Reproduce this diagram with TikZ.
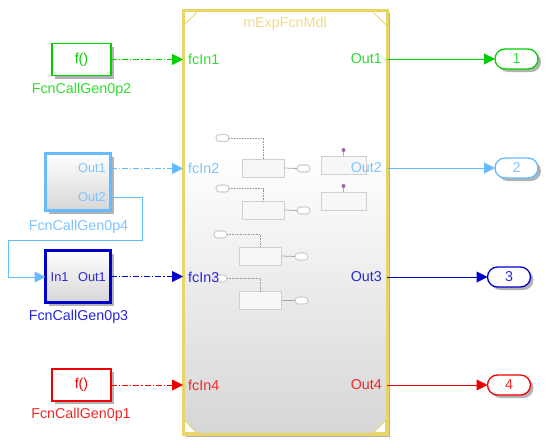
\documentclass[tikz,border=0pt]{standalone}
\usepackage{fontspec}
\setmainfont{Liberation Sans}
\usetikzlibrary{arrows.meta,shadows,calc}
\definecolor{cgreen}{HTML}{00D000}
\definecolor{tgreen}{HTML}{30DC30}
\definecolor{clight}{HTML}{66BBFF}
\definecolor{tlight}{HTML}{80C4FF}
\definecolor{cdark}{HTML}{0000CC}
\definecolor{tdark}{HTML}{2828D8}
\definecolor{cred}{HTML}{F00000}
\definecolor{tred}{HTML}{F02828}
\definecolor{cyel}{HTML}{EAD468}
\definecolor{tyel}{HTML}{F0DC88}
\definecolor{cgrey}{HTML}{D0D0D0}
\definecolor{cpurp}{HTML}{A860A8}
\pgfdeclareverticalshading{mdlshade}{100bp}{color(0bp)=(white!84!black);color(25bp)=(white!84!black);color(58bp)=(white);color(100bp)=(white)}
\newcommand{\bigf}{\fontsize{14.3}{14.3}\selectfont}
\newcommand{\smallf}{\fontsize{12.8}{13}\selectfont}
\tikzset{
  softshadow/.style={drop shadow={shadow xshift=3pt,shadow yshift=-3pt,fill=black,opacity=.3}},
  gen/.style={draw=#1,text=#1,fill=white,line width=1.6pt,inner sep=0pt,outer sep=0pt,softshadow},
  sub/.style={draw=#1,line width=2.2pt,inner sep=0pt,outer sep=0pt,softshadow,top color=white,bottom color=white!84!black},
  oport/.style={draw=#1,text=#1,fill=white,line width=1.3pt,inner sep=0pt,outer sep=0pt,rounded corners=10pt,minimum width=43pt,minimum height=20pt,softshadow},
  lbl/.style={text=#1,inner sep=0pt,font=\bigf},
  slbl/.style={text=#1,inner sep=0pt,font=\smallf},
  sig/.style={draw=#1,line width=1pt,-{Triangle[length=11pt,width=11pt,fill=#1]}},
  fcn/.style={sig=#1,dash pattern=on 6pt off 2pt on 1.2pt off 2pt},
  ibox/.style={draw=cgrey,fill=white!97!black,line width=1pt,inner sep=0pt,outer sep=0pt,minimum width=42pt,minimum height=18pt},
  ioval/.style={draw=cgrey,fill=white,line width=1.1pt,inner sep=0pt,outer sep=0pt,rounded corners=3.4pt,minimum width=13pt,minimum height=7pt},
  iline/.style={draw=cgrey!80!black,line width=.7pt},
  idash/.style={draw=black!40,line width=.6pt,densely dotted},
}
\begin{document}
\begin{tikzpicture}[x=1pt,y=-1pt]
\useasboundingbox (0,0) rectangle (550,445);
\fill[white] (0,0) rectangle (550,445);
% main block
\node[draw=cyel,line width=3pt,inner sep=0pt,outer sep=0pt,minimum width=204pt,minimum height=424pt,shading=mdlshade,softshadow] (mdl) at (285,222) {};
\coordinate (tl) at (184.5,11.5); \coordinate (tr) at (385.5,11.5);
\coordinate (bl) at (184.5,432.5); \coordinate (br) at (385.5,432.5);
\draw[cyel,line width=.9pt] ($(tl)+(13,0)$) -- ($(tl)+(0,13)$);
\draw[cyel,line width=.9pt] ($(tr)+(-13,0)$) -- ($(tr)+(0,13)$);
\fill[white,draw=cyel,line width=.9pt] (bl) -- ($(bl)+(12,0)$) -- ($(bl)+(0,-12)$) -- cycle;
\fill[white,draw=cyel,line width=.9pt] (br) -- ($(br)+(-12,0)$) -- ($(br)+(0,-12)$) -- cycle;
\node[lbl=tyel] (title) at (285,24) {mExpFcnMdl};
% inner content
\foreach \n/\cx/\cy/\ox/\oy/\rx/\ry in {a/263/168/222.5/138/303.5/168.5, b/263/210/222.5/188.5/303.5/210.5, c/260.5/256/220.5/234.5/301.5/256.5, d/260.5/300.5/220.5/278.5/301.5/300.5}{
  \node[ibox] (box\n) at (\cx,\cy) {};
  \node[ioval] (in\n) at (\ox,\oy) {};
  \node[ioval] (out\n) at (\rx,\ry) {};
  \draw[idash] (in\n.east) -| (box\n.north);
  \draw[iline] (box\n.east) -- (out\n.west);
}
\node[ibox,minimum width=45pt] (boxe) at (343.5,165) {};
\node[ibox,minimum width=45pt] (boxf) at (343.5,201) {};
\foreach \b/\y in {e/150,f/186}{
  \node[circle,fill=cpurp,inner sep=0pt,minimum size=4pt] (dot\b) at (343.5,\y) {};
  \draw[cpurp!60,line width=1.1pt] (dot\b) -- (box\b.north);
}
% source blocks
\node[gen=cgreen,minimum width=59pt,minimum height=32pt] (g2) at (81.5,59.5) {\bigf f()};
\node[lbl=tgreen] (g2l) at (81.5,90) {FcnCallGen0p2};
\node[sub=clight,minimum width=65pt,minimum height=57pt] (g4) at (78,182) {};
\node[slbl=tlight,anchor=east] (g4o1) at (106,168.5) {Out1};
\node[slbl=tlight,anchor=east] (g4o2) at (106,197.5) {Out2};
\node[lbl=tlight] (g4l) at (78.5,227) {FcnCallGen0p4};
\node[sub=cdark,minimum width=65pt,minimum height=52pt] (g3) at (78,276.5) {};
\node[slbl=tdark,anchor=west] (g3i) at (50.5,277) {In1};
\node[slbl=tdark,anchor=east] (g3o) at (106,277) {Out1};
\node[lbl=tdark] (g3l) at (78.5,317) {FcnCallGen0p3};
\node[gen=cred,minimum width=59pt,minimum height=32pt] (g1) at (81.5,385) {\bigf f()};
\node[lbl=tred] (g1l) at (81,415) {FcnCallGen0p1};
% ports of main block
\foreach \t/\y/\c in {1/59/tgreen,2/168/tlight,3/277/tdark,4/385/tred}{
  \node[lbl=\c,anchor=west] (pi\t) at (188,\y) {fcIn\t};
  \node[lbl=\c,anchor=east] (po\t) at (382,\y) {Out\t};
}
% outports
\node[oport=cgreen,text=tgreen] (o1) at (516.5,59) {\bigf 1};
\node[oport=clight,text=tlight] (o2) at (516.5,168) {\bigf 2};
\node[oport=cdark,text=tdark] (o3) at (509,277) {\bigf 3};
\node[oport=cred,text=tred] (o4) at (509,385) {\bigf 4};
% connectors
\coordinate (e1) at (mdl.west |- g2.east);
\coordinate (e2) at (mdl.west |- g4o1.east);
\coordinate (e3) at (mdl.west |- g3.east);
\coordinate (e4) at (mdl.west |- g1.east);
\draw[fcn=cgreen] (g2.east) -- (e1);
\draw[fcn=clight] (g4.east |- e2) -- (e2);
\draw[fcn=cdark] (g3.east) -- (e3);
\draw[fcn=cred] (g1.east) -- (e4);
\draw[sig=cgreen] (mdl.east |- o1.west) -- (o1.west);
\draw[sig=clight] (mdl.east |- o2.west) -- (o2.west);
\draw[sig=cdark] (mdl.east |- o3.west) -- (o3.west);
\draw[sig=cred] (mdl.east |- o4.west) -- (o4.west);
\coordinate (fb1) at (142,240.5);
\coordinate (fb2) at (8.5,240.5);
\draw[sig=clight] (g4.east |- g4o2.east) -| (fb1) -- (fb2) |- (g3.west |- g3i.west);
\end{tikzpicture}
\end{document}
